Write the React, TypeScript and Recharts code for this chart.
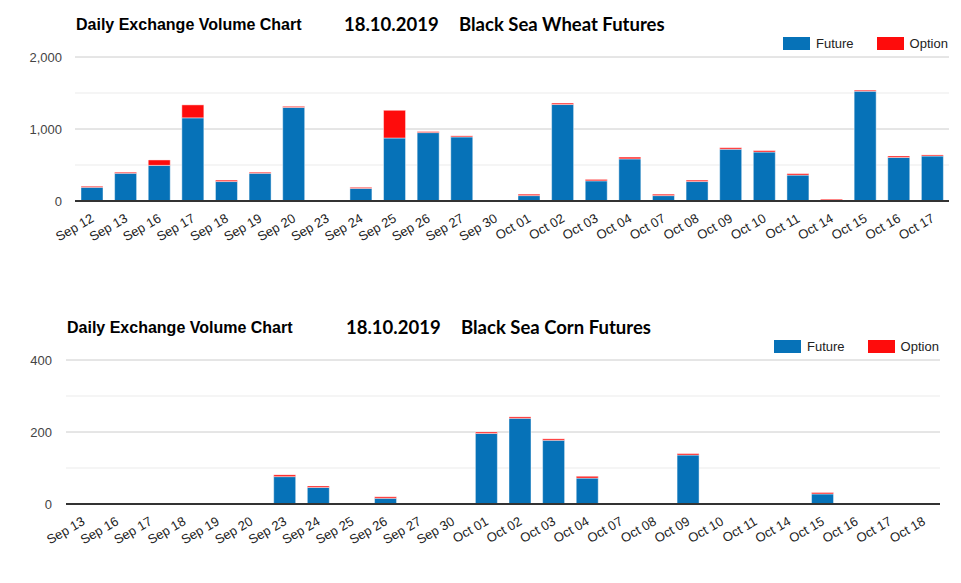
import { BarChart, Bar, XAxis, YAxis, CartesianGrid } from 'recharts'

const wheatDates = [
  'Sep 12', 'Sep 13', 'Sep 16', 'Sep 17', 'Sep 18', 'Sep 19', 'Sep 20', 'Sep 23', 'Sep 24',
  'Sep 25', 'Sep 26', 'Sep 27', 'Sep 30', 'Oct 01', 'Oct 02', 'Oct 03', 'Oct 04', 'Oct 07',
  'Oct 08', 'Oct 09', 'Oct 10', 'Oct 11', 'Oct 14', 'Oct 15', 'Oct 16', 'Oct 17',
]
const wheatFuture = [
  190, 385, 495, 1155, 270, 385, 1300, 0, 175, 875, 950, 890, 0, 75, 1340, 280, 585, 75,
  270, 720, 680, 360, 10, 1525, 605, 625,
]
const wheatOption = [
  15, 15, 75, 180, 20, 15, 15, 0, 15, 385, 15, 15, 0, 20, 20, 20, 25, 20, 20, 20, 20, 20, 15,
  15, 20, 15,
]

const cornDates = [
  'Sep 13', 'Sep 16', 'Sep 17', 'Sep 18', 'Sep 19', 'Sep 20', 'Sep 23', 'Sep 24', 'Sep 25',
  'Sep 26', 'Sep 27', 'Sep 30', 'Oct 01', 'Oct 02', 'Oct 03', 'Oct 04', 'Oct 07', 'Oct 08',
  'Oct 09', 'Oct 10', 'Oct 11', 'Oct 14', 'Oct 15', 'Oct 16', 'Oct 17', 'Oct 18',
]
const cornFuture = [
  0, 0, 0, 0, 0, 0, 76, 46, 0, 16, 0, 0, 196, 238, 177, 72, 0, 0, 136, 0, 0, 0, 28, 0, 0, 0,
]
const cornOption = [
  0, 0, 0, 0, 0, 0, 5, 4, 0, 4, 0, 0, 4, 4, 4, 5, 0, 0, 4, 0, 0, 0, 4, 0, 0, 0,
]

const wheatTicks = [0, 1000, 2000]
const wheatMinor = [500, 1500]
const cornTicks = [0, 200, 400]
const cornMinor = [100, 300]

const BLUE = '#0672b8'
const RED = '#fe0c0c'
const FONT = '"Liberation Sans", Arial, sans-serif'
const TITLE_FONT = 'Lato, "Open Sans", sans-serif'

// eslint-disable-next-line @typescript-eslint/no-explicit-any
function SlantTick({ x, y, payload }: any) {
  return (
    <text
      x={x + 3}
      y={y + 20}
      textAnchor="end"
      fontSize={13}
      fontFamily={FONT}
      fill="#222"
      transform={`rotate(-30, ${x + 3}, ${y + 20})`}
    >
      {payload.value}
    </text>
  )
}

interface PanelProps {
  top: number
  height: number
  dates: string[]
  future: number[]
  option: number[]
  ticks: number[]
  minor: number[]
  marginLeft: number
  marginRight: number
  marginTop: number
  yTickMargin: number
  product: string
  titleLeft: number
  dateLeft: number
  productLeft: number
  titleTop: number
  legendLeft: number
  legendTop: number
}

function Panel(p: PanelProps) {
  const data = p.dates.map((d, i) => ({ date: d, future: p.future[i], option: p.option[i] }))
  const max = p.ticks[p.ticks.length - 1]
  return (
    <div style={{ position: 'absolute', left: 0, top: p.top, width: 961, height: p.height }}>
      <div
        style={{
          position: 'absolute', left: p.titleLeft, top: p.titleTop, fontFamily: FONT,
          fontWeight: 'bold', fontSize: 16, color: '#000', whiteSpace: 'nowrap',
        }}
      >
        Daily Exchange Volume Chart
      </div>
      <div
        style={{
          position: 'absolute', left: p.dateLeft, top: p.titleTop - 3, fontFamily: TITLE_FONT,
          fontWeight: 'bold', fontSize: 18.5, color: '#000', whiteSpace: 'nowrap',
        }}
      >
        18.10.2019
      </div>
      <div
        style={{
          position: 'absolute', left: p.productLeft, top: p.titleTop - 3, fontFamily: TITLE_FONT,
          fontWeight: 'bold', fontSize: 18.5, color: '#000', whiteSpace: 'nowrap',
        }}
      >
        {p.product}
      </div>
      <div
        style={{
          position: 'absolute', left: p.legendLeft, top: p.legendTop, display: 'flex',
          alignItems: 'center', fontFamily: FONT, fontSize: 13, color: '#222', whiteSpace: 'nowrap',
        }}
      >
        <span style={{ display: 'inline-block', width: 27, height: 13, background: BLUE, marginRight: 6 }} />
        <span style={{ marginRight: 23 }}>Future</span>
        <span style={{ display: 'inline-block', width: 27, height: 13, background: RED, marginRight: 6 }} />
        <span>Option</span>
      </div>
      <BarChart
        width={961}
        height={p.height}
        data={data}
        margin={{ top: p.marginTop, right: p.marginRight, bottom: 19, left: p.marginLeft }}
        barSize={22}
        style={{ position: 'absolute', left: 0, top: 0 }}
      >
        <CartesianGrid vertical={false} stroke="#ebebeb" horizontalValues={p.minor} />
        <CartesianGrid vertical={false} stroke="#cccccc" horizontalValues={p.ticks} />
        <XAxis
          dataKey="date"
          interval={0}
          height={60}
          tickSize={0}
          tickMargin={0}
          tick={<SlantTick />}
          axisLine={{ stroke: '#333', strokeWidth: 2 }}
        />
        <YAxis
          width={60}
          domain={[0, max]}
          ticks={p.ticks}
          tickSize={0}
          tickMargin={p.yTickMargin}
          axisLine={false}
          tickFormatter={(v: number) => v.toLocaleString('en-US')}
          tick={{ fill: '#444', fontSize: 13, fontFamily: FONT }}
        />
        <Bar dataKey="future" stackId="a" fill={BLUE} stroke="#ffffff" strokeOpacity={0.45} isAnimationActive={false} />
        <Bar dataKey="option" stackId="a" fill={RED} stroke="#ffffff" strokeOpacity={0.45} isAnimationActive={false} />
      </BarChart>
    </div>
  )
}

export default function App() {
  return (
    <div style={{ position: 'absolute', left: 0, top: 0, width: 961, height: 583, background: '#fff' }}>
      <Panel
        top={0}
        height={280}
        dates={wheatDates}
        future={wheatFuture}
        option={wheatOption}
        ticks={wheatTicks}
        minor={wheatMinor}
        marginLeft={15}
        marginRight={12}
        marginTop={57}
        yTickMargin={13}
        product="Black Sea Wheat Futures"
        titleLeft={76}
        dateLeft={344}
        productLeft={459}
        titleTop={16}
        legendLeft={783}
        legendTop={36}
      />
      <Panel
        top={300}
        height={283}
        dates={cornDates}
        future={cornFuture}
        option={cornOption}
        ticks={cornTicks}
        minor={cornMinor}
        marginLeft={6}
        marginRight={21}
        marginTop={60}
        yTickMargin={14}
        product="Black Sea Corn Futures"
        titleLeft={67}
        dateLeft={346}
        productLeft={461}
        titleTop={19}
        legendLeft={774}
        legendTop={39}
      />
    </div>
  )
}
